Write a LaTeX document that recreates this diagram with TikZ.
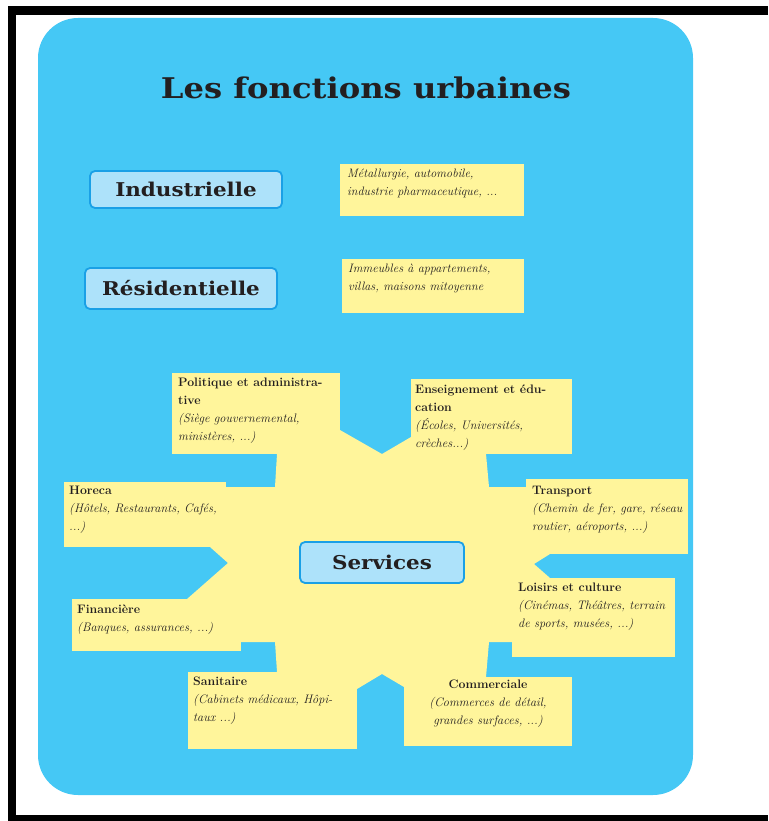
\documentclass[tikz,border=0pt]{standalone}
\usepackage{fontspec}
\newfontfamily\decofont{DejaVu Serif}
\definecolor{sky}{HTML}{45C8F5}
\definecolor{pale}{HTML}{FFF59B}
\definecolor{btnfill}{HTML}{ADE2FA}
\definecolor{btnline}{HTML}{1AA0E6}
\definecolor{ink}{HTML}{231F20}
% decorative labels are set slightly stretched
\newcommand{\btntext}[1]{\scalebox{1.13}[1]{#1}}
\tikzset{
  ybox/.style={fill=pale, draw=none, inner sep=0pt, outer sep=0pt, anchor=north west},
  lbl/.style={anchor=north west, inner sep=0pt, align=left, text=ink,
    font=\fontsize{12.3}{18}\selectfont},
  btn/.style={rounded corners=5pt, fill=btnfill, draw=btnline, line width=1.8pt,
    inner sep=0pt, text=ink, font=\decofont\bfseries\fontsize{19}{19}\selectfont},
}
\begin{document}
\begin{tikzpicture}[x=1pt,y=-1pt]
\useasboundingbox (0,0) rectangle (768,821);
% outer black frame (open on the right)
\fill[black] (8,6) rectangle (768,15);
\fill[black] (8,6) rectangle (16,821);
\fill[black] (8,815) rectangle (768,821);
% blue panel
\fill[sky, rounded corners=40pt] (38,18) rectangle (693,795);
% title
\node[text=ink, font=\decofont\bfseries\fontsize{28.5}{28.5}\selectfont] (title) at (366,88) {\btntext{Les fonctions urbaines}};
% industrial / residential buttons and their notes
\node[btn, minimum width=192pt, minimum height=37pt] (ind) at (186,189.5) {\btntext{Industrielle}};
\node[btn, minimum width=192pt, minimum height=41pt] (res) at (181,288.5) {\btntext{Résidentielle}};
\node[ybox, minimum width=184pt, minimum height=52pt] (metbox) at (340,164) {};
\node[lbl, font=\itshape\fontsize{12.2}{18}\selectfont] (met) at (347,169) {Métallurgie, automobile,\\industrie pharmaceutique, ...};
\node[ybox, minimum width=182pt, minimum height=54pt] (immbox) at (342,259) {};
\node[lbl, font=\itshape\fontsize{12.2}{18}\selectfont] (imm) at (348,264) {Immeubles à appartements,\\villas, maisons mitoyenne};
% services star: body
\fill[pale] (340,430) -- (382,454) -- (411,437) -- (411,454) -- (486,454) -- (489,487)
  -- (526,487) -- (526,554) -- (550,554) -- (534,564) -- (550,578) -- (512,578)
  -- (512,642) -- (489,642) -- (486,677) -- (404,677) -- (404,687) -- (382,674)
  -- (357,689) -- (357,672) -- (277,672) -- (275,642) -- (241,642) -- (241,599)
  -- (187,599) -- (228,563) -- (210,547) -- (226,547) -- (226,487) -- (275,487)
  -- (277,454) -- (340,454) -- cycle;
% services star: boxes
\node[ybox, minimum width=168pt, minimum height=81pt] (polbox) at (172,373) {};
\node[ybox, minimum width=161pt, minimum height=75pt] (ensbox) at (411,379) {};
\node[ybox, minimum width=162pt, minimum height=75pt] (trabox) at (526,479) {};
\node[ybox, minimum width=163pt, minimum height=79pt] (loibox) at (512,578) {};
\node[ybox, minimum width=168pt, minimum height=69pt] (combox) at (404,677) {};
\node[ybox, minimum width=169pt, minimum height=77pt] (sanbox) at (188,672) {};
\node[ybox, minimum width=169pt, minimum height=52pt] (finbox) at (72,599) {};
\node[ybox, minimum width=162pt, minimum height=65pt] (horbox) at (64,482) {};
% services star: texts
\node[lbl] (pol) at (178,378) {\textbf{Politique et administra-}\\\textbf{tive}\\\textit{(Siège gouvernemental,}\\\textit{ministères, ...)}};
\node[lbl] (ens) at (415,385) {\textbf{Enseignement et édu-}\\\textbf{cation}\\\textit{(Écoles, Universités,}\\\textit{crèches...)}};
\node[lbl] (tra) at (532,486) {\textbf{Transport}\\\textit{(Chemin de fer, gare, réseau}\\\textit{routier, aéroports, ...)}};
\node[lbl] (loi) at (518,583) {\textbf{Loisirs et culture}\\\textit{(Cinémas, Théâtres, terrain}\\\textit{de sports, musées, ...)}};
\node[lbl, anchor=north, align=center] (com) at (488,680) {\textbf{Commerciale}\\\textit{(Commerces de détail,}\\\textit{grandes surfaces, ...)}};
\node[lbl] (san) at (193,677) {\textbf{Sanitaire}\\\textit{(Cabinets médicaux, Hôpi-}\\\textit{taux ...)}};
\node[lbl] (fin) at (77,605) {\textbf{Financière}\\\textit{(Banques, assurances, ...)}};
\node[lbl] (hor) at (69,486) {\textbf{Horeca}\\\textit{(Hôtels, Restaurants, Cafés,}\\\textit{...)}};
% central button
\node[btn, minimum width=164pt, minimum height=41pt] (ser) at (382,562.5) {\btntext{Services}};
\end{tikzpicture}
\end{document}
